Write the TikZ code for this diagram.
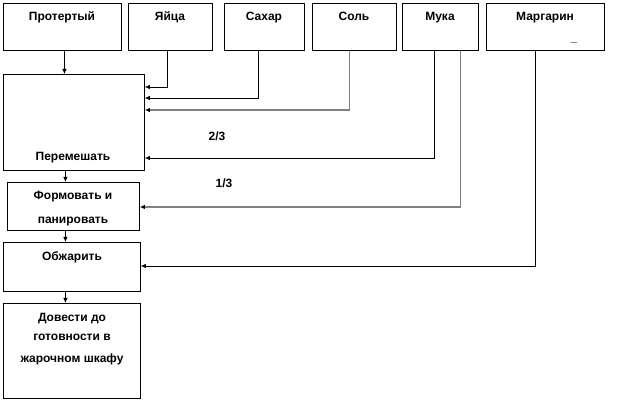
\documentclass[tikz,border=0pt]{standalone}
\usepackage{fontspec}
\setmainfont{Liberation Sans}
\usetikzlibrary{arrows.meta}
\begin{document}
\begin{tikzpicture}[x=1pt,y=-1pt,
  box/.style={draw, line width=0.8pt, inner sep=0pt, anchor=north west},
  txt/.style={font=\fontsize{12}{14}\selectfont\bfseries, inner sep=0pt, anchor=base},
  arr/.style={line width=0.8pt, -{Latex[length=5pt,width=4.5pt,color=black]}},
  garr/.style={line width=1.5pt, draw=gray, -{Latex[length=5pt,width=4.5pt,color=black]}}]
\useasboundingbox (0,0) rectangle (626,411);
% top boxes
\node[box, minimum width=118pt, minimum height=47pt] (prot) at (3,3) {};
\node[box, minimum width=84pt, minimum height=47pt] (yaica) at (128,3) {};
\node[box, minimum width=80pt, minimum height=47pt] (sahar) at (224,3) {};
\node[box, minimum width=84pt, minimum height=47pt] (sol) at (312,3) {};
\node[box, minimum width=76pt, minimum height=47pt] (muka) at (402,3) {};
\node[box, minimum width=118pt, minimum height=47pt] (marg) at (486,3) {};
% process boxes
\node[box, minimum width=141pt, minimum height=96pt] (mix) at (3,74) {};
\node[box, minimum width=132pt, minimum height=48pt] (form) at (7,182) {};
\node[box, minimum width=137pt, minimum height=49pt] (fry) at (3,242) {};
\node[box, minimum width=137pt, minimum height=95pt] (fin) at (3,303) {};
% texts
\node[txt] (tprot) at (62,21) {Протертый};
\node[txt] (tyaica) at (170,21) {Яйца};
\node[txt] (tsahar) at (264,21) {Сахар};
\node[txt] (tsol) at (354,21) {Соль};
\node[txt] (tmuka) at (440,21) {Мука};
\node[txt] (tmarg) at (545,21) {Маргарин};
\node[txt] (tdash) at (574,42) {\_};
\node[txt] (tmix) at (73,161) {Перемешать};
\node[txt] (tform1) at (73,200) {Формовать и};
\node[txt] (tform2) at (73,224) {панировать};
\node[txt] (tfry) at (72,261) {Обжарить};
\node[txt] (tfin1) at (72,322) {Довести до};
\node[txt] (tfin2) at (72,341) {готовности в};
\node[txt] (tfin3) at (72,362) {жарочном шкафу};
\node[txt] (t23) at (217,141) {2/3};
\node[txt] (t13) at (224,188) {1/3};
% levels
\coordinate (l1) at (0,87);
\coordinate (l2) at (0,98);
\coordinate (l3) at (0,110);
\coordinate (l4) at (0,158);
\coordinate (l5) at (0,207);
\coordinate (l6) at (0,266);
% connectors
\draw[arr] ([xshift=2pt]prot.south) -- ([xshift=2pt]prot.south |- mix.north);
\draw[arr] ([xshift=-3pt]yaica.south) |- (l1 -| mix.east);
\draw[arr] ([xshift=-6pt]sahar.south) |- (l2 -| mix.east);
\draw[garr] ([xshift=-5pt]sol.south) |- (l3 -| mix.east);
\draw[arr] ([xshift=-6pt]muka.south) |- (l4 -| mix.east);
\draw[garr] ([xshift=20pt]muka.south) |- (l5 -| form.east);
\draw[arr] ([xshift=-10pt]marg.south) |- (l6 -| fry.east);
\draw[arr] ([xshift=-8.5pt]mix.south) -- ([xshift=-8.5pt]mix.south |- form.north);
\draw[arr] ([xshift=-8pt]form.south) -- ([xshift=-8pt]form.south |- fry.north);
\draw[arr] ([xshift=-6.5pt]fry.south) -- ([xshift=-6.5pt]fry.south |- fin.north);
\end{tikzpicture}
\end{document}
